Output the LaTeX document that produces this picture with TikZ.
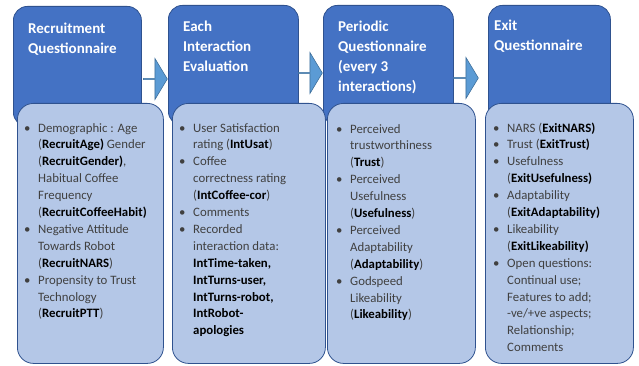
\documentclass[tikz,border=0pt]{standalone}
\usepackage{fontspec}
\setmainfont{Carlito}
\usetikzlibrary{shapes.arrows}
\definecolor{headblue}{HTML}{4472C4}
\definecolor{edgeblue}{HTML}{2F528F}
\definecolor{listblue}{HTML}{B4C7E7}
\definecolor{arrowblue}{HTML}{5B9BD5}
\definecolor{arrowedge}{HTML}{41719C}
\definecolor{bodygrey}{HTML}{404040}
\newcommand{\kw}[1]{\textbf{\color{black}#1}}
\begin{document}
\begin{tikzpicture}[x=1pt, y=-1pt,
    headbox/.style={rectangle, draw=edgeblue, fill=headblue, line width=0.8pt, rounded corners=14pt, anchor=north west, minimum height=120pt, inner sep=0pt},
    listbox/.style={rectangle, draw=edgeblue, fill=listblue, line width=0.8pt, rounded corners=16pt, anchor=north west, minimum height=260pt, inner sep=0pt},
    headtext/.style={anchor=north west, inner sep=0pt, text=white, font=\fontsize{15}{20}\selectfont\bfseries},
    listtext/.style={anchor=north west, inner sep=0pt, text=bodygrey, font=\fontsize{12.8}{16.9}\selectfont},
    flowarrow/.style={single arrow, draw=arrowedge, fill=arrowblue, line width=0.6pt, anchor=tail, inner sep=0pt, minimum width=41pt, single arrow head extend=10pt, single arrow tip angle=118, minimum height=24pt}]
  \useasboundingbox (0,0) rectangle (639,366);
  % header boxes
  \node (recq) [headbox, minimum width=128pt] at (13,6) {};
  \node (inteval) [headbox, minimum width=130pt] at (168,5) {};
  \node (perq) [headbox, minimum width=130pt] at (323,5) {};
  \node (exitq) [headbox, minimum width=122pt] at (488,5) {};
  % arrows between stages
  \node (a1) [flowarrow] at (143,79) {};
  \node (a2) [flowarrow] at (298,73) {};
  \node (a3) [flowarrow, minimum height=25pt] at (453,78) {};
  % list boxes
  \node (recl) [listbox, minimum width=146pt] at (17,103) {};
  \node (intl) [listbox, minimum width=153pt] at (172,103) {};
  \node (perl) [listbox, minimum width=148pt] at (327,103) {};
  \node (exitl) [listbox, minimum width=148pt] at (485,103) {};
  % titles
  \node (recqt) [headtext] at (28,19) {\begin{tabular}{@{}l@{}}Recruitment\\Questionnaire\end{tabular}};
  \node (intevalt) [headtext] at (183,17) {\begin{tabular}{@{}l@{}}Each\\Interaction\\Evaluation\end{tabular}};
  \node (perqt) [headtext] at (338,17) {\begin{tabular}{@{}l@{}}Periodic\\Questionnaire\\(every 3\\interactions)\end{tabular}};
  \node (exitqt) [headtext] at (494,16) {\begin{tabular}{@{}l@{}}Exit\\Questionnaire\end{tabular}};
  % measures
  \node (reclt) [listtext] at (24,120) {\begin{tabular}{@{}p{14pt}@{}l@{}}
    \textbullet & Demographic : Age\\
     & (\kw{RecruitAge)} Gender\\
     & (\kw{RecruitGender)},\\
     & Habitual Coffee\\
     & Frequency\\
     & (\kw{RecruitCoffeeHabit)}\\
    \textbullet & Negative Attitude\\
     & Towards Robot\\
     & (\kw{RecruitNARS})\\
    \textbullet & Propensity to Trust\\
     & Technology\\
     & (\kw{RecruitPTT})
  \end{tabular}};
  \node (intlt) [listtext] at (179,120) {\begin{tabular}{@{}p{14pt}@{}l@{}}
    \textbullet & User Satisfaction\\
     & rating (\kw{IntUsat})\\
    \textbullet & Coffee\\
     & correctness rating\\
     & (\kw{IntCoffee-cor})\\
    \textbullet & Comments\\
    \textbullet & Recorded\\
     & interaction data:\\
     & \kw{IntTime-taken,}\\
     & \kw{IntTurns-user,}\\
     & \kw{IntTurns-robot,}\\
     & \kw{IntRobot-}\\
     & \kw{apologies}
  \end{tabular}};
  \node (perlt) [listtext] at (336,121) {\begin{tabular}{@{}p{14pt}@{}l@{}}
    \textbullet & Perceived\\
     & trustworthiness\\
     & (\kw{Trust})\\
    \textbullet & Perceived\\
     & Usefulness\\
     & (\kw{Usefulness})\\
    \textbullet & Perceived\\
     & Adaptability\\
     & (\kw{Adaptability})\\
    \textbullet & Godspeed\\
     & Likeability\\
     & (\kw{Likeability})
  \end{tabular}};
  \node (exitlt) [listtext] at (493,120) {\begin{tabular}{@{}p{14pt}@{}l@{}}
    \textbullet & NARS (\kw{ExitNARS)}\\
    \textbullet & Trust (\kw{ExitTrust)}\\
    \textbullet & Usefulness\\
     & (\kw{ExitUsefulness)}\\
    \textbullet & Adaptability\\
     & (\kw{ExitAdaptability)}\\
    \textbullet & Likeability\\
     & (\kw{ExitLikeability)}\\
    \textbullet & Open questions:\\
     & Continual use;\\
     & Features to add;\\
     & -ve/+ve aspects;\\
     & Relationship;\\
     & Comments
  \end{tabular}};
\end{tikzpicture}
\end{document}
